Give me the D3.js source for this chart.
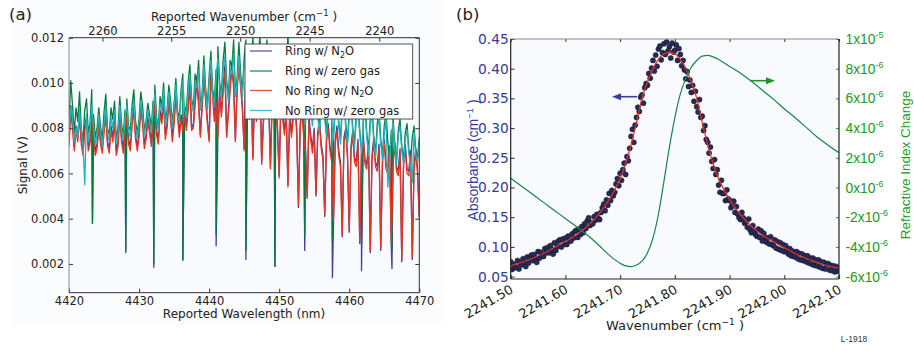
<!DOCTYPE html>
<html><head><meta charset="utf-8">
<script src="https://cdn.jsdelivr.net/npm/d3@7"></script>
<style>
body{margin:0;background:#fff;}
svg{display:block;}
text{font-family:"DejaVu Sans",sans-serif;}
.lib{font-family:"Liberation Sans",Arial,sans-serif;}
</style></head><body>
<svg id="c" width="914" height="351"></svg>
<script>
// ================= DATA: panel (a) =================
const wlStart = 4420, wlStep = 0.25;   // wavelength grid (nm) of the sampled spectra
const wlTicks = [4420, 4430, 4440, 4450, 4460, 4470];
const wnTicks = [2260, 2255, 2250, 2245, 2240];
const signalTicks = [0.002, 0.004, 0.006, 0.008, 0.010, 0.012];
// signals in mV
const ringN2O = [
7.4,9.0,8.2,7.2,8.1,7.6,8.8,7.5,7.0,8.1,
8.5,7.2,7.5,8.9,7.9,7.0,7.3,8.2,7.5,7.1,
8.0,8.7,7.4,7.1,8.1,7.6,8.4,7.0,7.4,8.7,
7.6,7.1,8.0,8.7,7.5,7.2,8.3,9.0,7.7,7.2,
7.8,9.0,8.4,7.3,7.7,8.5,8.0,7.4,8.6,9.2,
7.9,7.5,8.8,8.4,9.4,7.7,8.2,9.3,8.6,7.6,
8.4,9.6,8.7,7.8,8.6,8.0,8.8,8.1,9.0,10.1,
8.0,8.2,9.3,10.3,9.2,7.7,9.1,10.4,9.4,8.4,
7.5,10.5,9.6,8.5,9.4,7.7,9.7,8.7,9.8,10.8,
7.7,8.8,9.9,10.9,10.0,7.5,9.9,11.0,10.0,9.0,
7.1,10.8,9.8,8.6,9.7,6.7,9.8,8.5,9.5,10.9,
6.5,8.4,9.4,10.5,9.4,6.3,9.3,10.3,9.2,8.1,
5.9,9.4,8.6,7.9,8.8,5.5,8.7,7.8,8.6,9.2,
8.0,4.5,8.2,9.0,7.8,7.2,4.9,8.5,7.7,7.1,
8.0,5.0,7.8,8.4,7.3,6.8,4.1,7.6,8.2,7.2,
6.7,3.8,7.5,8.1,7.0,6.5,3.2,7.6,8.0,6.9,
3.4,7.2,7.9,6.7,6.5,7.5,2.9,7.0,7.7,6.6,
6.4,7.4,2.5,6.8,7.6,6.5,6.3,7.3,2.6,6.7,
7.5,6.4,6.2,7.2,2.8,6.6,7.4,6.3,6.1,7.1,
2.1,6.5,7.3,6.2,6.1,7.0,2.2,6.4,7.1,6.2,
4.1];
const ringZero = [
8.4,10.1,9.0,7.8,8.9,8.3,9.6,8.0,7.4,8.8,
9.3,7.8,8.2,9.7,8.6,7.6,8.0,8.9,8.1,7.5,
8.7,9.5,8.0,7.7,8.9,8.4,9.2,7.5,8.0,9.4,
8.2,7.6,8.8,9.3,8.1,7.9,9.0,9.7,8.3,7.8,
8.4,9.6,9.0,7.9,8.3,9.1,8.6,8.0,9.2,9.9,
8.5,8.0,9.4,9.0,10.0,8.3,8.8,9.9,9.2,8.2,
9.1,10.2,8.7,8.5,9.7,10.4,9.0,8.7,10.0,10.8,
9.3,8.9,10.4,10.0,11.0,9.0,9.5,11.2,9.8,9.0,
10.3,11.4,9.7,9.2,10.6,11.6,10.0,9.5,11.0,11.8,
10.1,9.4,11.0,10.7,11.9,9.6,10.2,11.8,10.4,9.6,
11.1,11.9,10.0,9.5,10.9,12.0,10.2,9.3,11.0,12.1,
10.0,9.2,10.8,11.9,10.1,9.1,10.6,11.7,9.7,9.0,
10.5,11.6,9.5,8.9,10.3,12.2,9.4,8.7,10.1,11.1,
9.2,8.6,10.0,10.9,9.1,8.4,9.8,10.6,8.9,8.3,
9.6,10.4,8.7,8.0,9.4,10.2,8.6,7.8,9.3,10.0,
8.5,7.7,9.1,9.8,8.3,7.5,9.0,9.7,8.2,7.4,
8.8,9.5,8.0,7.3,8.7,9.3,7.9,7.1,8.5,9.1,
7.8,7.0,8.4,9.0,7.6,6.9,8.2,8.8,7.5,6.8,
8.1,8.7,7.4,6.7,7.9,8.5,7.2,6.6,7.9,8.4,
7.2,6.6,7.8,8.2,7.1,6.5,7.6,8.1,7.0,6.7,
7.6];
const noRingN2O = [
7.2,8.7,8.0,7.0,7.9,7.4,8.5,7.3,6.8,7.9,
8.3,7.0,7.3,8.7,7.7,6.8,7.1,8.0,7.3,6.9,
7.8,8.5,7.2,6.9,7.9,7.4,8.2,6.8,7.2,8.5,
7.4,6.9,7.8,8.5,7.3,7.0,8.1,8.8,7.5,7.0,
7.6,8.8,8.2,7.1,7.5,8.3,7.8,7.2,8.4,9.0,
7.7,7.3,8.6,8.2,9.2,7.5,8.0,9.1,8.4,7.4,
8.2,9.3,8.5,7.6,8.4,7.9,8.6,7.9,8.8,9.8,
7.9,8.0,9.0,10.0,9.0,7.6,8.9,10.1,9.2,8.2,
7.4,10.2,9.4,8.3,9.2,7.6,9.5,8.5,9.6,10.5,
7.6,8.6,9.7,10.6,9.8,7.4,9.7,10.7,9.8,8.8,
7.0,10.5,9.6,8.4,9.5,6.6,9.6,8.3,9.3,10.6,
6.4,8.2,9.2,10.2,9.2,6.2,9.1,10.0,9.0,7.9,
5.8,9.2,8.4,7.7,8.6,5.4,8.5,7.6,8.4,9.0,
7.8,4.6,8.0,8.8,7.6,7.0,5.0,8.3,7.5,6.9,
7.8,5.1,7.6,8.2,7.1,6.6,4.2,7.4,8.0,7.0,
6.5,3.9,7.3,7.9,6.8,6.3,3.3,7.4,7.8,6.7,
3.5,7.0,7.7,6.5,6.3,7.3,3.0,6.8,7.5,6.4,
6.2,7.2,2.6,6.6,7.4,6.3,6.1,7.1,2.7,6.5,
7.3,6.2,6.0,7.0,2.9,6.4,7.2,6.1,5.9,6.9,
2.2,6.3,7.1,6.0,5.9,6.8,2.3,6.2,6.9,6.0,
4.0];
const noRingZero = [
7.8,8.9,8.5,7.4,8.0,7.6,8.8,7.9,7.3,5.5,
8.6,7.4,7.9,9.0,8.1,7.3,7.7,8.6,7.8,7.2,
8.2,9.0,7.8,7.4,8.5,8.0,8.8,7.3,7.8,9.0,
7.9,7.5,8.5,9.0,7.9,7.6,8.7,9.2,8.0,7.6,
8.2,9.2,8.6,7.7,8.1,8.8,8.3,7.8,8.9,9.5,
8.3,7.9,9.1,8.8,9.7,8.1,8.6,9.6,8.9,8.0,
8.9,9.9,8.5,8.3,9.4,10.1,8.8,8.5,9.7,10.4,
9.1,8.7,10.0,9.8,10.6,8.8,9.3,10.8,9.6,8.8,
10.0,11.0,9.5,9.0,10.3,11.1,9.8,9.3,10.6,11.2,
9.9,9.2,10.6,10.4,11.3,9.4,10.0,11.2,10.1,9.4,
10.8,11.4,9.8,9.3,10.6,11.4,10.0,9.1,10.7,11.4,
9.8,9.0,10.5,11.3,9.9,8.9,10.3,11.1,9.5,8.8,
10.2,11.0,9.3,8.7,10.0,11.2,9.2,8.5,9.8,10.6,
9.0,8.4,9.7,10.4,8.9,8.2,9.5,10.1,8.7,8.1,
9.3,9.9,8.5,7.8,9.1,9.8,8.4,7.6,9.0,9.6,
8.3,7.5,8.8,9.4,8.1,7.3,8.7,9.3,8.0,7.2,
8.5,9.1,7.8,7.1,8.4,8.9,7.7,6.9,8.2,8.8,
7.6,6.8,8.1,8.7,7.4,6.7,7.9,8.5,7.3,6.6,
7.8,8.4,5.4,6.5,7.7,8.2,7.0,6.4,7.7,8.1,
7.0,6.4,7.5,7.9,6.9,6.3,5.6,7.8,6.8,6.5,
7.3];
// sharp ring-resonance dips (nm, mV)
const ringDipNm = [4423.35, 4428.1, 4432.1, 4436.25, 4441.0, 4445.25, 4449.4, 4453.65, 4457.6, 4461.75, 4466.1];
const ringDipN2O = [3.8, 2.6, 1.85, 2.2, 2.8, 2.2, 1.9, 2.6, 1.4, 1.7, 1.8];
const ringDipZero = [3.8, 2.5, 2.0, 2.15, 3.3, 2.6, 1.9, 3.2, 3.0, 2.8, 2.6];
const legendLabels = [["Ring w/ N","2","O"], ["Ring w/ zero gas"], ["No Ring w/ N","2","O"], ["No Ring w/ zero gas"]];

// ================= DATA: panel (b) =================
const absTicks = [0.05, 0.10, 0.15, 0.20, 0.25, 0.30, 0.35, 0.40, 0.45];
const wnbTicks = [2241.50, 2241.60, 2241.70, 2241.80, 2241.90, 2242.00, 2242.10];
const riTicks = [-6e-6, -4e-6, -2e-6, 0, 2e-6, 4e-6, 6e-6, 8e-6, 1e-5];
const riTickMant = ["-6", "-4", "-2", "0", "2", "4", "6", "8", "1"];
const riTickExp = ["-6", "-6", "-6", "-6", "-6", "-6", "-6", "-6", "-5"];
const dotStart = 2241.50, dotStep = 0.0025;
const absorbanceMeas = [
.075,.062,.071,.065, .066,.077,.063,.073, .070,.080,.074,.067, .083,.073,.081,.086,
.077,.087,.081,.074, .092,.081,.091,.085, .084,.097,.090,.099, .090,.102,.096,.088,
.107,.094,.101,.110, .112,.100,.113,.104, .115,.104,.118,.110, .110,.122,.115,.126,
.128,.116,.130,.121, .134,.124,.139,.131, .144,.149,.136,.141, .139,.151,.145,.155,
.148,.146,.158,.166, .172,.161,.179,.170, .190,.178,.195,.186, .192,.206,.215,.203,
.224,.212,.230,.241, .222,.252,.245,.266, .286,.298,.276,.305, .318,.335,.328,.352,
.356,.342,.368,.375, .372,.392,.384,.401, .414,.396,.423,.404, .433,.438,.415,.427,
.442,.424,.445,.430, .437,.418,.443,.428, .431,.440,.414,.434, .424,.405,.414,.398,
.383,.395,.370,.381, .360,.372,.345,.362, .336,.327,.348,.318, .320,.296,.304,.281,
.276,.258,.268,.244, .232,.247,.222,.230, .204,.192,.212,.190, .190,.178,.196,.181,
.178,.166,.171,.177, .158,.168,.155,.149, .146,.158,.149,.140, .143,.133,.147,.129,
.124,.136,.127,.121, .118,.130,.116,.127, .110,.123,.116,.108, .115,.105,.117,.104,
.102,.112,.098,.109, .096,.107,.094,.104, .092,.102,.095,.088, .097,.085,.093,.084,
.083,.092,.080,.089, .078,.088,.077,.085, .075,.085,.073,.081, .071,.081,.069,.078,
.068,.078,.066,.075, .064,.074,.063,.071, .072,.061,.069,.060, .068,.058,.067,.059,
.064];
const fitStart = 2241.50, fitStep = 0.01;
const absorbanceFit = [
.068,.071,.074,.077,.081,.085,.089,.094,.099,.104,
.109,.114,.120,.127,.135,.144,.154,.166,.180,.196,
.215,.240,.272,.310,.350,.378,.400,.416,.425,.428,
.425,.416,.400,.378,.350,.310,.272,.240,.215,.196,
.180,.166,.154,.144,.135,.127,.120,.114,.109,.104,
.099,.094,.089,.085,.081,.077,.074,.071,.068,.066,
.064];
const riWn = [2241.50,2241.52,2241.54,2241.56,2241.58,2241.60,2241.62,2241.64,2241.66,2241.68,
  2241.70,2241.71,2241.72,2241.73,2241.74,2241.75,2241.76,2241.77,2241.78,2241.79,
  2241.80,2241.81,2241.82,2241.83,2241.84,2241.85,2241.86,2241.87,2241.88,2241.90,
  2241.92,2241.94,2241.96,2241.98,2242.00,2242.02,2242.04,2242.06,2242.08,2242.10];
const riChange = [0.62,0.08,-0.46,-1.00,-1.55,-2.09,-2.63,-3.20,-3.85,-4.55,
  -5.10,-5.28,-5.33,-5.22,-4.95,-4.40,-3.40,-1.80,0.40,2.70,
  4.70,6.30,7.35,8.10,8.55,8.85,8.90,8.80,8.62,8.15,
  7.70,7.15,6.55,5.95,5.30,4.70,4.05,3.40,2.85,2.34]; // x1e-6

// ================= DRAW =================
const svg = d3.select('#c');
const defs = svg.append('defs');
const ink = '#222';

// ---------- panel (a) ----------
const A = {l: 69, r: 419.3, t: 37.7, b: 292.7};
const xa = d3.scaleLinear().domain([4420, 4470]).range([A.l, A.r]);
const ya = d3.scaleLinear().domain([0.00073, 0.012]).range([A.b, A.t]);
svg.append('rect').attr('x', 12).attr('y', 0).attr('width', 430).attr('height', 326).attr('fill', '#fbfcfe');
svg.append('rect').attr('x', A.l).attr('y', A.t).attr('width', A.r - A.l).attr('height', A.b - A.t).attr('fill', '#f8fafd');
defs.append('clipPath').attr('id', 'clipA').append('rect')
  .attr('x', A.l).attr('y', A.t).attr('width', A.r - A.l).attr('height', A.b - A.t);

function buildSeries(vals, dipV) {
  const pts = vals.map((v, i) => ({x: wlStart + i * wlStep, y: v / 1000}));
  if (dipV) ringDipNm.forEach((x, k) => pts.push({x: x, y: dipV[k] / 1000}));
  return pts.sort((p, q) => p.x - q.x);
}
const seriesA = [
  {vals: ringN2O, dips: ringDipN2O, color: '#3d3d9f'},
  {vals: ringZero, dips: ringDipZero, color: '#087a3c'},
  {vals: noRingN2O, dips: null, color: '#e8331f'},
  {vals: noRingZero, dips: null, color: '#20b5b8'}
];
const lineA = d3.line().x(d => xa(d.x)).y(d => ya(d.y));
const gLines = svg.append('g').attr('clip-path', 'url(#clipA)');
seriesA.forEach(s => {
  gLines.append('path').datum(buildSeries(s.vals, s.dips))
    .attr('d', lineA).attr('fill', 'none').attr('stroke', s.color)
    .attr('stroke-width', 1.3).attr('stroke-linejoin', 'round');
});

// axes a
const fs = 11.5;
const axL = svg.append('g').attr('transform', `translate(${A.l},0)`)
  .call(d3.axisLeft(ya).tickValues(signalTicks).tickFormat(d3.format('.3f')).tickSize(-4).tickPadding(5));
const axR = svg.append('g').attr('transform', `translate(${A.r},0)`)
  .call(d3.axisRight(ya).tickValues(signalTicks).tickFormat('').tickSize(-4));
const axBt = svg.append('g').attr('transform', `translate(0,${A.b})`)
  .call(d3.axisBottom(xa).tickValues(wlTicks).tickFormat(d3.format('d')).tickSize(-4).tickPadding(4));
const axTp = svg.append('g').attr('transform', `translate(0,${A.t})`)
  .call(d3.axisTop(xa).tickValues(wnTicks.map(w => 1e7 / w)).tickFormat((d, i) => wnTicks[i]).tickSize(-4).tickPadding(2.5));
[axL, axR, axBt, axTp].forEach(g => {
  g.select('.domain').remove();
  g.selectAll('text').attr('font-size', fs).attr('font-family', 'DejaVu Sans').attr('fill', ink);
  g.selectAll('line').attr('stroke', '#333');
});
// spines a
svg.append('line').attr('x1', A.l).attr('x2', A.l).attr('y1', A.t).attr('y2', A.b).attr('stroke', '#888').attr('stroke-width', 1);
svg.append('line').attr('x1', A.l).attr('x2', A.r).attr('y1', A.b).attr('y2', A.b).attr('stroke', '#333').attr('stroke-width', 1);
svg.append('line').attr('x1', A.r).attr('x2', A.r).attr('y1', A.t).attr('y2', A.b).attr('stroke', '#333').attr('stroke-width', 1);
svg.append('line').attr('x1', A.l).attr('x2', A.r).attr('y1', A.t).attr('y2', A.t).attr('stroke', '#333').attr('stroke-width', 1);

// labels a
const tTop = svg.append('text').attr('x', 244).attr('y', 20.5).attr('text-anchor', 'middle').attr('font-size', 12).attr('fill', ink);
tTop.append('tspan').text('Reported Wavenumber (cm');
tTop.append('tspan').attr('font-size', 8.5).attr('dy', -5).text('\u22121');
tTop.append('tspan').attr('dy', 5).text(' )');
svg.append('text').attr('x', 244).attr('y', 317.5).attr('text-anchor', 'middle').attr('font-size', 12).attr('fill', ink).text('Reported Wavelength (nm)');
svg.append('text').attr('transform', `translate(27,${(A.t + A.b) / 2}) rotate(-90)`).attr('text-anchor', 'middle').attr('font-size', 12).attr('fill', ink).text('Signal (V)');
svg.append('text').attr('x', 9).attr('y', 19.5).attr('font-size', 16.5).attr('fill', ink).text('(a)');

// legend a
const lg = svg.append('g');
lg.append('rect').attr('x', 245).attr('y', 44).attr('width', 167.7).attr('height', 75).attr('fill', '#ffffff').attr('stroke', '#444').attr('stroke-width', 0.9);
const legY = [51, 71, 90.5, 110.5];
seriesA.forEach((s, k) => {
  lg.append('line').attr('x1', 250).attr('x2', 272).attr('y1', legY[k]).attr('y2', legY[k]).attr('stroke', s.color).attr('stroke-width', 1.3).attr('opacity', 0.85);
  const t = lg.append('text').attr('x', 285).attr('y', legY[k] + 4.2).attr('font-size', 11.5).attr('fill', ink);
  const parts = legendLabels[k];
  t.append('tspan').text(parts[0]);
  if (parts.length > 1) {
    t.append('tspan').attr('font-size', 8).attr('dy', 2.5).text(parts[1]);
    t.append('tspan').attr('dy', -2.5).text(parts[2]);
  }
});

// ---------- panel (b) ----------
const B = {l: 510.7, r: 839, t: 39, b: 279};
const xb = d3.scaleLinear().domain([2241.5, 2242.1]).range([B.l, B.r]);
const yb = d3.scaleLinear().domain([0.04596, 0.45]).range([B.b, B.t]);
const yr = d3.scaleLinear().domain([-6.16e-6, 1e-5]).range([B.b, B.t]);
svg.append('rect').attr('x', B.l).attr('y', B.t).attr('width', B.r - B.l).attr('height', B.b - B.t).attr('fill', '#f8fafd');
defs.append('clipPath').attr('id', 'clipB').append('rect')
  .attr('x', B.l).attr('y', B.t).attr('width', B.r - B.l).attr('height', B.b - B.t);
const gB = svg.append('g').attr('clip-path', 'url(#clipB)');
// measured points
gB.selectAll('circle').data(absorbanceMeas).join('circle')
  .attr('cx', (d, i) => xb(dotStart + i * dotStep)).attr('cy', d => yb(d)).attr('r', 2.6)
  .attr('fill', '#272b58').attr('stroke', '#15162c').attr('stroke-width', 0.5);
// fit
gB.append('path').datum(absorbanceFit)
  .attr('d', d3.line().x((d, i) => xb(fitStart + i * fitStep)).y(d => yb(d)).curve(d3.curveMonotoneX))
  .attr('fill', 'none').attr('stroke', '#e8301e').attr('stroke-width', 1.2);
// refractive index
gB.append('path').datum(riChange)
  .attr('d', d3.line().x((d, i) => xb(riWn[i])).y(d => yr(d * 1e-6)).curve(d3.curveMonotoneX))
  .attr('fill', 'none').attr('stroke', '#13884a').attr('stroke-width', 1.2);

// arrows
function arrow(x1, x2, y, color) {
  const dir = Math.sign(x2 - x1);
  svg.append('line').attr('x1', x1).attr('x2', x2 - dir * 6).attr('y1', y).attr('y2', y).attr('stroke', color).attr('stroke-width', 1.6);
  svg.append('path').attr('d', `M${x2},${y} L${x2 - dir * 9},${y - 3.5} L${x2 - dir * 9},${y + 3.5} Z`).attr('fill', color);
}
arrow(637, 612, 96.7, '#3c3ca2');
arrow(750, 775, 80.7, '#18961e');

// axes b
const bl = '#3b3b95', gr = '#229a22';
const axBL = svg.append('g').attr('transform', `translate(${B.l},0)`)
  .call(d3.axisLeft(yb).tickValues(absTicks).tickFormat(d3.format('.2f')).tickSize(-4).tickPadding(2));
axBL.selectAll('text').attr('font-size', 13.8).attr('font-family', 'Liberation Sans, Arial, sans-serif').attr('fill', bl);
axBL.selectAll('line').attr('stroke', '#333');
const axBB = svg.append('g').attr('transform', `translate(0,${B.b})`)
  .call(d3.axisBottom(xb).tickValues(wnbTicks).tickFormat(d3.format('.2f')).tickSize(-4));
axBB.selectAll('text').attr('font-size', 13).attr('font-family', 'DejaVu Sans').attr('fill', ink)
  .attr('text-anchor', 'end').attr('y', 0).attr('dy', 0).attr('transform', 'translate(3,13) rotate(-30)');
axBB.selectAll('line').attr('stroke', '#333');
const axBT = svg.append('g').attr('transform', `translate(0,${B.t})`)
  .call(d3.axisTop(xb).tickValues(wnbTicks).tickFormat('').tickSize(-3));
axBT.selectAll('line').attr('stroke', '#333');
const axBR = svg.append('g').attr('transform', `translate(${B.r},0)`)
  .call(d3.axisRight(yr).tickValues(riTicks).tickFormat('').tickSize(-3));
axBR.selectAll('line').attr('stroke', gr);
[axBL, axBB, axBT, axBR].forEach(g => g.select('.domain').remove());
riTicks.forEach((v, k) => {
  const t = svg.append('text').attr('class', 'lib').attr('x', 845.5).attr('y', yr(v) + 5).attr('font-size', 13.8).attr('fill', gr);
  t.append('tspan').text(riTickMant[k] + 'x10');
  t.append('tspan').attr('font-size', 9).attr('dy', -6).text(riTickExp[k]);
});
// spines b
svg.append('line').attr('x1', B.l).attr('x2', B.r).attr('y1', B.t).attr('y2', B.t).attr('stroke', '#888');
svg.append('line').attr('x1', B.l).attr('x2', B.l).attr('y1', B.t).attr('y2', B.b).attr('stroke', '#222').attr('stroke-width', 1.2);
svg.append('line').attr('x1', B.l).attr('x2', B.r).attr('y1', B.b).attr('y2', B.b).attr('stroke', '#222').attr('stroke-width', 1.2);
svg.append('line').attr('x1', B.r).attr('x2', B.r).attr('y1', B.t).attr('y2', B.b).attr('stroke', '#222').attr('stroke-width', 1.2);

// labels b
const tWn = svg.append('text').attr('x', 675).attr('y', 330).attr('text-anchor', 'middle').attr('font-size', 13).attr('fill', ink);
tWn.append('tspan').text('Wavenumber (cm');
tWn.append('tspan').attr('font-size', 9).attr('dy', -5.5).text('\u22121');
tWn.append('tspan').attr('dy', 5.5).text(' )');
const tAb = svg.append('text').attr('class', 'lib').attr('transform', `translate(478,160) rotate(-90)`).attr('text-anchor', 'middle').attr('font-size', 14).attr('fill', bl);
tAb.append('tspan').text('Absorbance (cm');
tAb.append('tspan').attr('font-size', 9.5).attr('dy', -5.5).text('\u22121');
tAb.append('tspan').attr('dy', 5.5).text(' )');
svg.append('text').attr('class', 'lib').attr('transform', `translate(909.5,165) rotate(-90)`).attr('text-anchor', 'middle').attr('font-size', 13.5).attr('fill', gr).text('Refractive Index Change');
svg.append('text').attr('x', 456).attr('y', 19.5).attr('font-size', 16.5).attr('fill', ink).text('(b)');
svg.append('text').attr('class', 'lib').attr('x', 854).attr('y', 342).attr('text-anchor', 'middle').attr('font-size', 8.5).attr('fill', '#333').text('L-1918');
</script>
</body></html>
